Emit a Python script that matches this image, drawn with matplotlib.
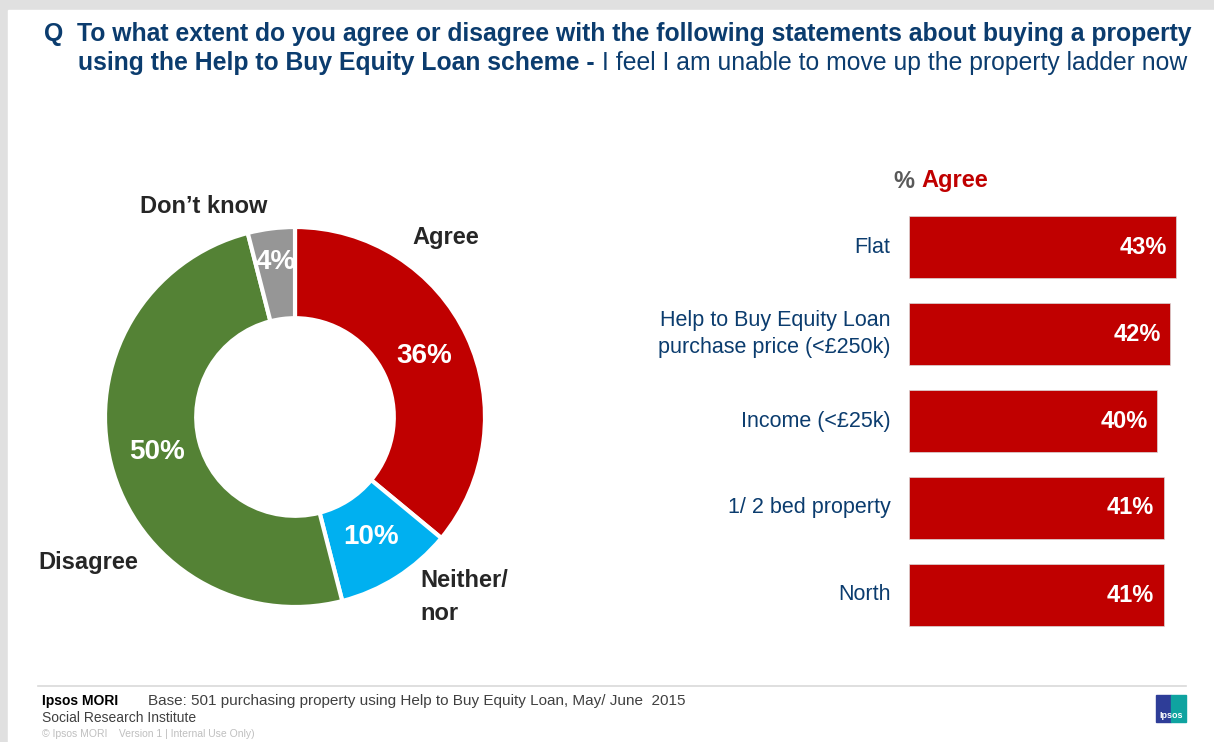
import matplotlib
matplotlib.use("Agg")
import matplotlib.pyplot as plt
from matplotlib.patches import Rectangle
import numpy as np

# donut data (clockwise from 12 o'clock)
pie_labels = ["Agree", "Neither/\nnor", "Disagree", "Don\u2019t know"]
pie_values = [36, 10, 50, 4]
pie_colors = ["#C00000", "#00B0F0", "#548235", "#969696"]

# bar data
bar_labels = ["Flat", "Help to Buy Equity Loan\npurchase price (<\u00a3250k)",
              "Income (<\u00a325k)", "1/ 2 bed property", "North"]
bar_values = [43, 42, 40, 41, 41]

W, H = 1214, 742
plt.rcParams['font.family'] = ['Liberation Sans', 'DejaVu Sans']
fig = plt.figure(figsize=(W / 100, H / 100), dpi=100)


def px(x, y):
    # pixel (from top-left) -> figure fraction
    return x / W, 1 - y / H


def ax_box(x0, y0, x1, y1):
    return [x0 / W, 1 - y1 / H, (x1 - x0) / W, (y1 - y0) / H]


# frame
fig.patches.append(Rectangle((0, 0), 1, 1, transform=fig.transFigure, color="#E0E0E0", zorder=-10))
fig.patches.append(Rectangle(px(8, 742), (W - 8) / W, (742 - 10) / H, transform=fig.transFigure,
                             color="white", zorder=-9))

navy = "#0B3C6E"
dark = "#262626"

# title
fig.text(*px(44, 34), "Q  To what extent do you agree or disagree with the following statements about buying a property",
         fontsize=17.8, fontweight="bold", color=navy, va="center", ha="left")
t2 = fig.text(*px(78, 63), "using the Help to Buy Equity Loan scheme - ", fontsize=17.8, fontweight="bold",
              color=navy, va="center", ha="left")
fig.canvas.draw()
bb = t2.get_window_extent()
fig.text(bb.x1 / W, 1 - 63 / H, "I feel I am unable to move up the property ladder now", fontsize=17.8,
         color=navy, va="center", ha="left")

# donut
cx, cy, R = 295, 417, 190
pad = 200
ax = fig.add_axes(ax_box(cx - pad, cy - pad, cx + pad, cy + pad))
wedges, _ = ax.pie(pie_values, colors=pie_colors, startangle=90, counterclock=False, radius=1,
                   wedgeprops=dict(width=0.48, edgecolor="white", linewidth=3))
ax.set_xlim(-pad / R, pad / R)
ax.set_ylim(-pad / R, pad / R)
ax.set_aspect("equal")
ax.axis("off")
total = sum(pie_values)
cum = 0
for v in pie_values:
    mid = 90 - (cum + v / 2) / total * 360
    cum += v
    r = 0.82 if v < 5 else 0.75
    ax.text(r * np.cos(np.radians(mid)), r * np.sin(np.radians(mid)), f"{v}%", color="white",
            fontsize=20, fontweight="bold", ha="center", va="center")

label_pos = [(412, 237, "left"), (420, 597, "left"), (38, 563, "left"), (140, 207, "left")]
for lab, (x, y, ha) in zip(pie_labels, label_pos):
    fig.text(*px(x, y), lab, fontsize=17, fontweight="bold", color=dark, ha=ha, va="center",
             linespacing=1.55)

# bars
bx = fig.add_axes(ax_box(909, 203.5, 909 + 6.21 * 50, 638.5))
y = np.arange(len(bar_values))
bx.barh(y, bar_values, height=0.71, color="#C00000", edgecolor="#D9D9D9", linewidth=0.5)
bx.set_xlim(0, 50)
bx.set_ylim(len(bar_values) - 0.5, -0.5)
bx.axis("off")
for yi, v in zip(y, bar_values):
    bx.text(v - 1.5, yi, f"{v}%", color="white", fontsize=17, fontweight="bold", ha="right", va="center")
for yi, lab in zip(y, bar_labels):
    bx.text(-3, yi, lab, color=navy, fontsize=15.5, ha="right", va="center", linespacing=1.35)

ta = fig.text(*px(894, 181), "% ", fontsize=17, fontweight="bold", color="#595959", ha="left", va="center")
fig.canvas.draw()
fig.text(ta.get_window_extent().x1 / W, 1 - 181 / H, "Agree", fontsize=17, fontweight="bold",
         color="#C00000", ha="left", va="center")

# footer
fig.add_artist(plt.Line2D([38 / W, 1186 / W], [1 - 686 / H] * 2, color="#D9D9D9", linewidth=1.2))
fig.text(*px(42, 701), "Ipsos MORI", fontsize=10, fontweight="bold", color="black", va="center")
fig.text(*px(148, 701), "Base: 501 purchasing property using Help to Buy Equity Loan, May/ June  2015",
         fontsize=11, color="#404040", va="center")
fig.text(*px(42, 718), "Social Research Institute", fontsize=10, color="#404040", va="center")
fig.text(*px(42, 734), "\u00a9 Ipsos MORI    Version 1 | Internal Use Only)", fontsize=7.5, color="#BFBFBF",
         va="center")

# logo
fig.patches.append(Rectangle(px(1156, 722), 15 / W, 27 / H, transform=fig.transFigure, color="#2E3D98"))
fig.patches.append(Rectangle(px(1171, 722), 15 / W, 27 / H, transform=fig.transFigure, color="#0FA3A0"))
fig.text(*px(1171, 716), "Ipsos", fontsize=6.5, fontweight="bold", color="white", ha="center", va="center")

fig.savefig("out.png", dpi=100)
